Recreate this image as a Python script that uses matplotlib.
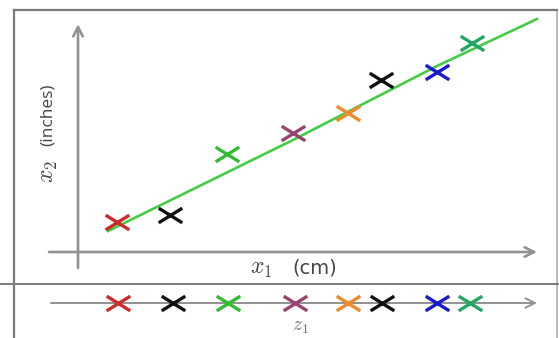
import matplotlib
matplotlib.use("Agg")
import matplotlib.pyplot as plt
from matplotlib.path import Path

plt.rcParams['mathtext.fontset'] = 'cm'

# Data (arbitrary units)
x1 = [3.9, 9.2, 14.9, 21.5, 27.0, 30.3, 35.9, 39.4]
x2 = [3.0, 3.7, 9.8, 11.9, 13.9, 17.2, 18.0, 20.9]
colors = ['#cc2b2b', '#111111', '#33bb33', '#99446f', '#ee8a2e', '#111111', '#1a1acc', '#22a862']
z1 = [4.0, 9.5, 15.0, 21.7, 27.0, 30.4, 35.9, 39.2]
fit_x = [3.0, 21.5, 35.9, 45.9]
fit_y = [2.1, 11.2, 18.6, 23.3]

fig = plt.figure(figsize=(5.59, 3.38), dpi=100)
ax = fig.add_axes([0, 0, 1, 1])
ax.set_xlim(-7.8, 48.1)
ax.set_ylim(-8.6, 25.2)
ax.axis('off')

gray = '#929292'
frame = '#7a7a7a'

# wide "x" marker (the picture is stretched horizontally)
wide_x = Path([(-1, -0.62), (1, 0.62), (-1, 0.62), (1, -0.62)],
              [Path.MOVETO, Path.LINETO, Path.MOVETO, Path.LINETO])

# frame
ax.plot([-6.4, -6.4], [-9, 24.2], color=frame, lw=1.6)
ax.plot([-6.4, 47.9], [24.2, 24.2], color=frame, lw=1.6)
ax.plot([47.9, 47.9], [-9, 24.2], color=frame, lw=1.2, alpha=0.6)
ax.plot([-8, 49], [-3.2, -3.2], color=frame, lw=1.4)

arrow = dict(arrowstyle='->', color=gray, lw=1.9, mutation_scale=17, shrinkA=0, shrinkB=0)
# axes of top panel
ax.annotate('', xy=(0, 22.8), xytext=(0, -1.6), arrowprops=arrow)
ax.annotate('', xy=(45.9, 0), xytext=(-2.9, 0), arrowprops=arrow)
# bottom axis
ax.annotate('', xy=(45.9, -5.1), xytext=(-2.7, -5.1),
            arrowprops=dict(arrowstyle='->', color=gray, lw=1.4, mutation_scale=17, shrinkA=0, shrinkB=0))

# fitted line
ax.plot(fit_x, fit_y, color='#44cc44', lw=1.9, zorder=2)

# points
for xx, yy, c in zip(x1, x2, colors):
    ax.plot(xx, yy, marker=wide_x, color=c, markersize=17, mew=2.4, zorder=3)
for zz, c in zip(z1, colors):
    ax.plot(zz, -5.1, marker=wide_x, color=c, markersize=17, mew=2.4, zorder=3)

# labels
ax.text(17.2, -1.6, r'$x_1$', ha='left', va='center', fontsize=17, color='#444444')
ax.text(21.4, -1.65, '(cm)', ha='left', va='center', fontsize=14,
        color='#444444', family='DejaVu Sans')
ax.text(-3.05, 13.7, '(inches)', ha='center', va='center', fontsize=12.5,
        color='#444444', family='Open Sans', rotation=90)
ax.text(-3.0, 8.0, r'$x_2$', ha='center', va='center', fontsize=17,
        color='#444444', rotation=90)
ax.text(22.2, -7.5, r'$z_1$', ha='center', va='center', fontsize=14, color='#707070')

fig.savefig('out.png', dpi=100)
